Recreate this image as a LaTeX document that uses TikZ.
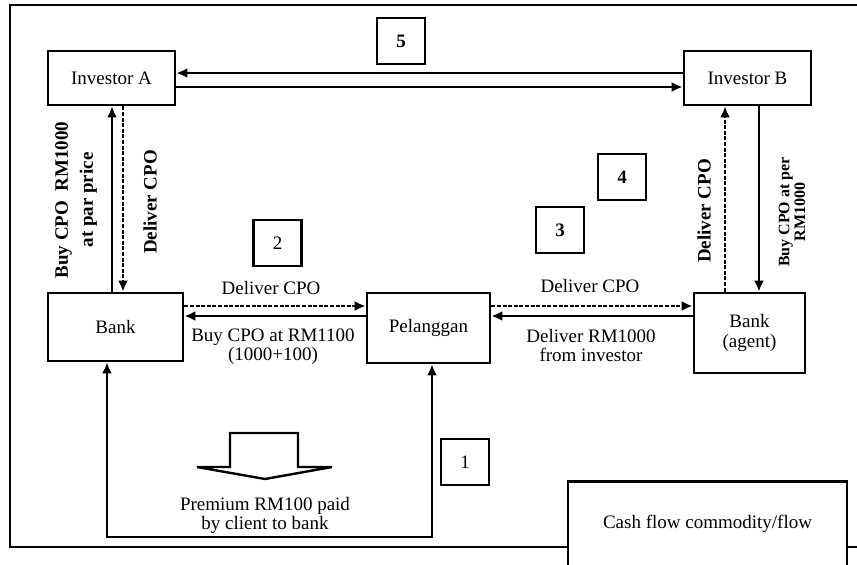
\documentclass[tikz,border=0pt]{standalone}
\usepackage{fontspec}
\setmainfont{Liberation Serif}
\usetikzlibrary{arrows.meta,positioning,calc}
\definecolor{CpoInk}{RGB}{0,0,0}
\tikzset{
  cpo/box/.style={
    draw=CpoInk,
    line width=1.4pt,
    fill=white,
    align=center,
    text=CpoInk,
    inner sep=0pt,
    font=\fontsize{9.5}{10}\selectfont
  },
  cpo/numbox/.style={
    draw=CpoInk,
    line width=1.4pt,
    fill=white,
    minimum width=24pt,
    minimum height=23pt,
    inner sep=0pt,
    text=CpoInk,
    font=\fontsize{9.5}{10}\selectfont
  },
  cpo/cash/.style={-{Latex[length=5.5pt,width=5pt]}, line width=1.2pt, draw=CpoInk},
  cpo/goods/.style={-{Latex[length=5.5pt,width=5pt]}, line width=1.2pt, draw=CpoInk, dash pattern=on 2pt off 0.8pt},
  cpo/both/.style={{Latex[length=5.5pt,width=5pt]}-{Latex[length=5.5pt,width=5pt]}, line width=1.2pt, draw=CpoInk},
  cpo/label/.style={font=\fontsize{9.5}{9.5}\selectfont, text=CpoInk, align=center, inner sep=0pt},
  cpo/sidelabel/.style={font=\bfseries\fontsize{9.5}{12.5}\selectfont, text=CpoInk, align=center, rotate=90, inner sep=0pt}
}

\begin{document}
\begin{tikzpicture}[x=0.5pt,y=-0.5pt]
  \clip (0,0) rectangle (857,564);
  \useasboundingbox (0,0) rectangle (857,564);
  % outer frame
  \draw[line width=1.4pt, draw=CpoInk] (10,5) rectangle (900,547);

  % parties
  \node[cpo/box,minimum width=63.5pt,minimum height=27pt] (invA) at (111.5,78) {Investor A};
  \node[cpo/box,minimum width=63.5pt,minimum height=27pt] (invB) at (747.5,78) {Investor B};
  \node[cpo/box,minimum width=67.5pt,minimum height=34pt] (bank) at (115.5,327) {Bank};
  \node[cpo/box,minimum width=61.5pt,minimum height=35pt] (plg) at (428.5,328) {Pelanggan};
  \node[cpo/box,minimum width=55.5pt,minimum height=40pt] (agent) at (749.5,333) {Bank\\(agent)};

  % step numbers
  \node[cpo/numbox,font=\bfseries\fontsize{9.5}{10}\selectfont] (n5) at (401,41) {5};
  \node[cpo/numbox,font=\bfseries\fontsize{9.5}{10}\selectfont] (n4) at (622,177) {4};
  \node[cpo/numbox,font=\bfseries\fontsize{9.5}{10}\selectfont] (n3) at (560,230) {3};
  \node[cpo/numbox] (n2) at (277.5,243) {2};
  \node[cpo/numbox] (n1) at (465,462) {1};

  % investor A <-> investor B
  \draw[cpo/cash] (invB.west |- 0,73) -- (invA.east |- 0,73);
  \draw[cpo/cash] (invA.east |- 0,87) -- (invB.west |- 0,87);

  % investor A <-> bank
  \draw[cpo/cash] (bank.north -| 112,0) -- (invA.south -| 112,0);
  \draw[cpo/goods] (invA.south -| 123,0) -- (bank.north -| 123,0);
  \node[cpo/sidelabel] (buyA) at (76,200) {Buy CPO\ \ RM1000\\at par price};
  \node[cpo/sidelabel] (delA) at (150,202) {Deliver CPO};

  % investor B <-> agent
  \draw[cpo/goods] (agent.north -| 725,0) -- (invB.south -| 725,0);
  \draw[cpo/cash] (invB.south -| 759,0) -- (agent.north -| 759,0);
  \node[cpo/sidelabel] (delB) at (704,211) {Deliver CPO};
  \node[cpo/sidelabel,font=\bfseries\fontsize{8}{7.8}\selectfont] (buyB) at (792,212) {Buy CPO at per\\RM1000};

  % bank <-> pelanggan
  \draw[cpo/goods] (bank.east |- 0,306) -- (plg.west |- 0,306);
  \draw[cpo/cash] (plg.west |- 0,316) -- (bank.east |- 0,316);
  \node[cpo/label] (delL) at (271,288) {Deliver CPO};
  \node[cpo/label] (buyL) at (273,347) {Buy CPO at RM1100\\(1000+100)};

  % pelanggan <-> agent
  \draw[cpo/goods] (plg.east |- 0,306) -- (agent.west |- 0,306);
  \draw[cpo/cash] (agent.west |- 0,316) -- (plg.east |- 0,316);
  \node[cpo/label] (delR) at (590,286) {Deliver CPO};
  \node[cpo/label] (payR) at (591,345) {Deliver RM1000\\from investor};

  % premium loop
  \draw[cpo/both] (bank.south -| 107,0) -- (107,537) -| (plg.south -| 432,0);
  \draw[line width=1.2pt, draw=CpoInk, fill=white]
    (230,433) -- (298,433) -- (298,467) -- (332,467) -- (265,479)
    -- (197,467) -- (230,467) -- cycle;
  \node[cpo/label] (prem) at (265,515) {Premium RM100 paid\\by client to bank};

  % legend
  \node[cpo/box,anchor=north,minimum width=139.5pt,text height=23.5pt,text depth=36.5pt] (legend) at (707.5,480) {Cash flow commodity/flow};
\end{tikzpicture}
\end{document}
